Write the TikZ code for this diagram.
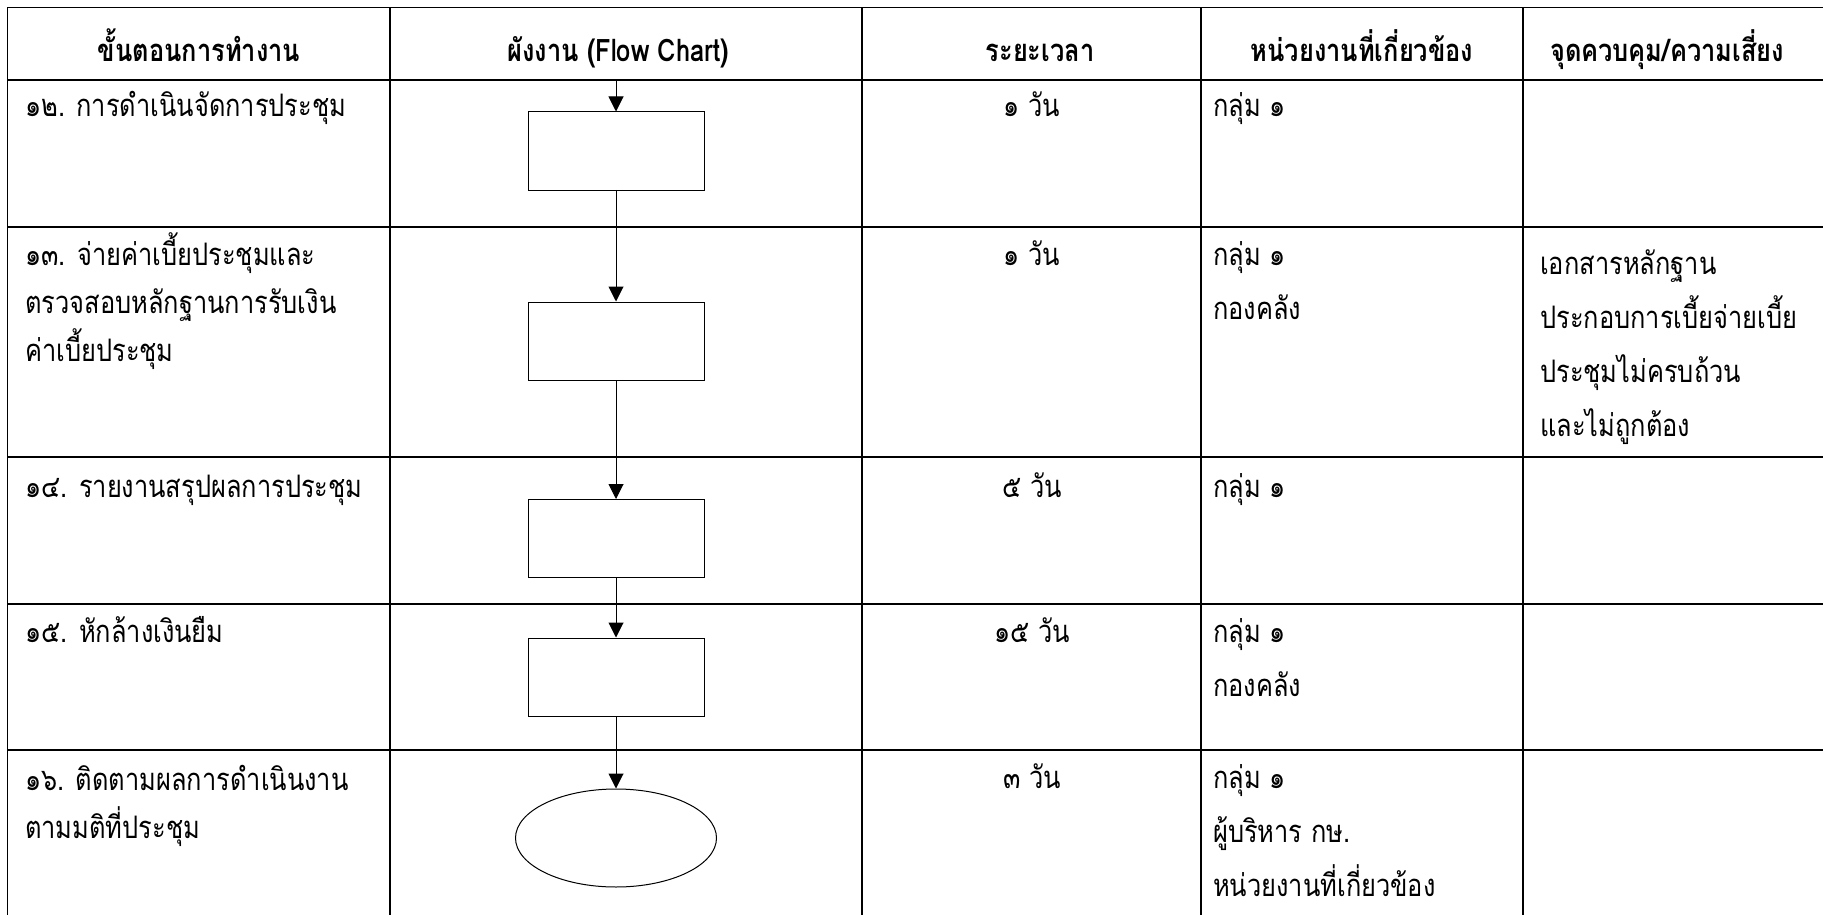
\documentclass[tikz,border=0pt]{standalone}
\usepackage{fontspec}
\setmainfont[Script=Thai, FakeStretch=0.82]{Loma}
\usetikzlibrary{positioning}
\usetikzlibrary{shapes.geometric}
\usetikzlibrary{arrows.meta}
\newcommand{\bodysize}{\fontsize{31}{48}\selectfont}
\newcommand{\unitsize}{\fontsize{31}{54}\selectfont}
\tikzset{
    grid/.style={line width=1.7pt},
    hdr/.style={anchor=base, inner sep=0pt, font=\bfseries\fontsize{31}{40}\selectfont},
    cell/.style={anchor=base west, inner sep=0pt, align=left, font=\bodysize},
    unit/.style={cell, font=\unitsize},
    days/.style={anchor=base, inner sep=0pt, font=\bodysize},
    proc/.style={draw, line width=1pt, rectangle, minimum width=176pt, minimum height=78pt, inner sep=0pt},
    term/.style={draw, line width=1pt, ellipse, minimum width=201pt, minimum height=98pt, inner sep=0pt},
    flow/.style={line width=1pt, -{Triangle[width=15pt, length=15pt]}},
}
\begin{document}
\begin{tikzpicture}[x=1pt, y=-1pt]
    \useasboundingbox (0,0) rectangle (1823,915);
    \clip (0,0) rectangle (1823,915);

    % table
    \draw[grid] (7.5,920) -- (7.5,7.5) -- (1830,7.5);
    \draw[grid] (390,7.5) -- (390,920) (862,7.5) -- (862,920)
        (1201,7.5) -- (1201,920) (1523,7.5) -- (1523,920);
    \draw[grid] (7.5,80) -- (1830,80) (7.5,227) -- (1830,227)
        (7.5,457) -- (1830,457) (7.5,604) -- (1830,604) (7.5,750) -- (1830,750);

    % header
    \node[hdr] (hdr-step) at (199,62) {ขั้นตอนการทำงาน};
    \node[hdr] (hdr-flow) at (618,62) {ผังงาน (Flow Chart)};
    \node[hdr] (hdr-time) at (1040,62) {ระยะเวลา};
    \node[hdr] (hdr-unit) at (1362,62) {หน่วยงานที่เกี่ยวข้อง};
    \node[hdr] (hdr-risk) at (1667,62) {จุดควบคุม/ความเสี่ยง};

    % steps (base = last line)
    \node[cell] (step12) at (25,117) {๑๒. การดำเนินจัดการประชุม};
    \node[cell] (step13) at (25,361) {๑๓. จ่ายค่าเบี้ยประชุมและ\\ตรวจสอบหลักฐานการรับเงิน\\ค่าเบี้ยประชุม};
    \node[cell] (step14) at (25,497) {๑๔. รายงานสรุปผลการประชุม};
    \node[cell] (step15) at (25,642) {๑๕. หักล้างเงินยืม};
    \node[cell] (step16) at (25,838) {๑๖. ติดตามผลการดำเนินงาน\\ตามมติที่ประชุม};

    % flow chart
    \coordinate (flow-in) at (616,80);
    \node[proc] (box12) at (616,151) {};
    \node[proc] (box13) at (616,341) {};
    \node[proc] (box14) at (616,538.5) {};
    \node[proc] (box15) at (616,677) {};
    \node[term] (end16) at (616,838) {};
    \draw[flow] (flow-in) -- (box12);
    \draw[flow] (box12) -- (box13);
    \draw[flow] (box13) -- (box14);
    \draw[flow] (box14) -- (box15);
    \draw[flow] (box15) -- (end16);

    % time
    \node[days] (time12) at (1032,117) {๑ วัน};
    \node[days] (time13) at (1032,265) {๑ วัน};
    \node[days] (time14) at (1032,497) {๕ วัน};
    \node[days] (time15) at (1032,642) {๑๕ วัน};
    \node[days] (time16) at (1032,788) {๓ วัน};

    % units
    \node[unit] (unit12) at (1213,117) {กลุ่ม ๑};
    \node[unit] (unit13) at (1213,319) {กลุ่ม ๑\\กองคลัง};
    \node[unit] (unit14) at (1213,497) {กลุ่ม ๑};
    \node[unit] (unit15) at (1213,696) {กลุ่ม ๑\\กองคลัง};
    \node[unit] (unit16) at (1213,896) {กลุ่ม ๑\\ผู้บริหาร กษ.\\หน่วยงานที่เกี่ยวข้อง};

    % risk
    \node[unit] (risk13) at (1540,436) {เอกสารหลักฐาน\\ประกอบการเบี้ยจ่ายเบี้ย\\ประชุมไม่ครบถ้วน\\และไม่ถูกต้อง};
\end{tikzpicture}
\end{document}
